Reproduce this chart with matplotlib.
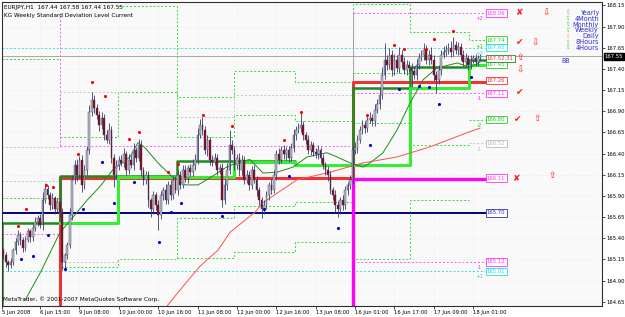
import matplotlib
matplotlib.use('Agg')
import matplotlib.pyplot as plt
import matplotlib.transforms as mtransforms
import numpy as np
from matplotlib import font_manager

cond = [f for f in font_manager.fontManager.ttflist
        if f.name == 'DejaVu Sans' and 'Condensed' in f.fname]
names = {f.name for f in font_manager.fontManager.ttflist}
if 'Liberation Sans Narrow' in names:
    plt.rcParams['font.family'] = ['Liberation Sans Narrow', 'DejaVu Sans']
    FS = 4.8
elif cond:
    plt.rcParams['font.family'] = ['DejaVu Sans']
    plt.rcParams['font.stretch'] = 'condensed'
    FS = 4.2
else:
    plt.rcParams['font.family'] = ['Liberation Sans', 'DejaVu Sans']
    FS = 4.0

# ---------------- data ----------------
closes = [
    165.20, 165.12, 165.09, 165.12, 165.26, 165.36, 165.44, 165.38, 165.29, 165.38,
    165.48, 165.41, 165.52, 165.59, 165.64, 165.56, 165.85, 165.98, 165.91, 165.79,
    165.87, 165.74, 165.83, 165.71, 165.12, 165.20, 165.32, 165.68, 166.09, 166.27,
    166.15, 166.33, 166.03, 166.21, 166.44, 166.89, 167.03, 166.94, 166.86, 166.74,
    166.82, 166.62, 166.56, 166.68, 166.35, 166.15, 166.27, 166.33, 166.29, 166.39,
    166.21, 166.33, 166.27, 166.44, 166.35, 166.50, 166.21, 166.09, 166.15, 165.85,
    165.74, 165.91, 165.79, 165.68, 165.91, 165.97, 165.85, 166.03, 165.91, 166.09,
    165.97, 166.15, 166.03, 166.21, 166.11, 166.23, 166.18, 166.27, 166.33, 166.62,
    166.74, 166.68, 166.44, 166.56, 166.33, 166.30, 166.35, 166.21, 166.23, 165.85,
    166.03, 166.21, 166.50, 166.44, 166.27, 166.35, 166.21, 166.33, 166.09, 166.15,
    166.03, 166.21, 166.09, 165.97, 165.85, 165.74, 165.79, 165.91, 166.03, 165.97,
    166.15, 166.39, 166.33, 166.44, 166.39, 166.44, 166.35, 166.47, 166.62, 166.68,
    166.70, 166.74, 166.62, 166.56, 166.44, 166.50, 166.42, 166.39, 166.44, 166.35,
    166.27, 166.21, 166.15, 165.97, 165.91, 165.79, 165.74, 165.85, 165.79, 165.97,
    166.03, 166.09, 166.44, 166.47, 166.56, 166.68, 166.74, 166.70, 166.80, 166.82,
    166.78, 166.92, 166.98, 167.09, 167.33, 167.51, 167.45, 167.57, 167.39, 167.51,
    167.41, 167.57, 167.48, 167.39, 167.45, 167.41, 167.37, 167.33, 167.45, 167.53,
    167.57, 167.62, 167.51, 167.57, 167.51, 167.33, 167.27, 167.39, 167.57, 167.60,
    167.62, 167.65, 167.60, 167.68, 167.62, 167.66, 167.57, 167.48, 167.53, 167.45,
    167.51, 167.53, 167.48, 167.53, 167.55]
first_open = 165.26
up_wick = [  # pips above body
    3, 4, 2, 5, 3, 4, 6, 3, 4, 5, 4, 3, 5, 6, 4, 5, 10, 7, 5, 4,
    6, 3, 5, 4, 5, 3, 4, 8, 6, 5, 7, 4, 5, 6, 5, 8, 10, 6, 5, 4,
    7, 5, 6, 8, 4, 5, 6, 4, 5, 7, 4, 6, 5, 8, 4, 7, 6, 3, 5, 4,
    3, 5, 4, 6, 5, 4, 7, 5, 6, 4, 5, 6, 4, 5, 6, 4, 5, 7, 6, 8,
    7, 9, 5, 6, 4, 5, 6, 4, 5, 6, 7, 8, 18, 6, 5, 4, 6, 5, 4, 6,
    5, 4, 6, 5, 3, 4, 6, 5, 4, 7, 6, 5, 8, 5, 6, 4, 5, 6, 7, 5,
    6, 14, 5, 4, 6, 5, 4, 5, 6, 4, 5, 3, 4, 5, 4, 6, 5, 4, 6, 5,
    4, 6, 5, 7, 6, 5, 6, 5, 6, 7, 5, 6, 7, 8, 9, 20, 6, 8, 5, 7,
    6, 9, 5, 6, 5, 4, 6, 5, 7, 6, 5, 8, 6, 5, 9, 5, 4, 6, 5, 7,
    6, 5, 8, 10, 5, 6, 4, 5, 6, 4, 5, 4, 5, 4, 3]
lo_wick = [  # pips below body
    5, 6, 8, 4, 3, 5, 4, 6, 5, 4, 3, 5, 4, 3, 5, 4, 6, 3, 5, 6,
    4, 5, 3, 6, 9, 8, 5, 4, 6, 5, 7, 4, 8, 5, 6, 4, 5, 6, 5, 7,
    5, 6, 4, 5, 6, 14, 5, 6, 4, 5, 6, 5, 4, 6, 5, 4, 7, 6, 5, 8,
    9, 5, 6, 18, 5, 6, 4, 5, 6, 5, 4, 6, 5, 4, 5, 6, 4, 5, 6, 5,
    4, 6, 5, 7, 6, 5, 4, 6, 5, 8, 5, 6, 5, 4, 6, 5, 7, 6, 5, 4,
    6, 5, 4, 7, 6, 10, 5, 4, 6, 5, 4, 6, 5, 4, 5, 6, 5, 4, 5, 6,
    4, 5, 6, 5, 4, 6, 5, 4, 5, 6, 5, 6, 7, 5, 6, 8, 9, 5, 6, 5,
    6, 5, 4, 5, 6, 4, 5, 6, 5, 4, 6, 5, 4, 5, 4, 5, 6, 5, 7, 6,
    5, 6, 7, 5, 6, 5, 18, 5, 6, 5, 4, 6, 5, 6, 5, 7, 15, 5, 6, 4,
    5, 4, 6, 5, 4, 5, 6, 5, 4, 6, 5, 4, 5, 4, 3]

# fractal dots (bar, price)
red_x = [6.0, 9.3, 17.4, 20.2, 30.4, 36.1, 41.4, 51.1, 55.2, 67.0, 71.1, 81.2, 93.0,
         114.1, 121.1, 147.9, 158.9, 162.9, 171.9, 175.1, 182.9]
red_y = [165.55, 165.74, 166.03, 166.01, 166.39, 167.25, 167.08, 166.57, 166.65, 166.18,
         166.28, 166.86, 166.72, 166.56, 166.89, 166.85, 167.68, 167.64, 167.64, 167.75, 167.85]
blue_x = [7.2, 12.1, 18.2, 25.1, 32.4, 40.2, 45.0, 53.2, 63.3, 68.2, 72.3, 88.9, 106.0,
          116.2, 136.1, 149.1, 160.9, 169.0, 173.1, 177.2, 190.2]
blue_y = [165.15, 165.19, 165.44, 165.04, 165.75, 166.30, 165.82, 166.07, 165.36, 165.71,
          165.82, 165.66, 165.74, 166.13, 165.52, 166.50, 167.16, 167.20, 167.19, 166.99, 167.30]

# moving averages (bar, price)
ma_fast_x = [8.9, 15.0, 23.1, 28.4, 34.1, 39.3, 44.6, 51.5, 54.8, 57.6, 62.9, 68.6, 73.9, 79.2,
             84.9, 90.2, 95.4, 100.3, 105.6, 111.3, 117.8, 123.5, 131.6, 135.7, 141.0, 146.3,
             149.1, 154.4, 160.1, 165.4, 170.6, 176.3, 184.5, 189.8, 193.8]
ma_fast_y = [164.67, 164.99, 165.47, 165.65, 165.85, 166.01, 166.21, 166.36, 166.53, 166.47,
             166.29, 166.13, 166.03, 166.03, 166.13, 166.23, 166.30, 166.33, 166.17, 166.18,
             166.24, 166.36, 166.41, 166.36, 166.29, 166.24, 166.29, 166.41, 166.68, 167.00,
             167.27, 167.41, 167.47, 167.42, 167.48]
ma_slow_x = [66.6, 71.9, 80.0, 87.3, 92.2, 102.4, 105.6, 119.4, 132.8, 146.3, 160.1, 173.5, 189.8, 193.8]
ma_slow_y = [164.60, 164.79, 165.07, 165.26, 165.47, 165.71, 165.82, 166.09, 166.18, 166.29,
             166.36, 166.48, 166.66, 166.70]

# daily / weekly levels
nan = np.nan
day_edges = [-0.5, 23, 46.5, 70.5, 94, 118.5, 142, 165.5, 189.5, 196]
green_a = [167.52, nan, 168.14, 167.07, 167.37, 167.25, 168.17, 167.83, 167.74]
green_b = [nan, 166.59, 167.13, 166.60, 166.85, 166.79, 167.35, nan, 166.80]
green_c = [nan, nan, nan, nan, nan, nan, 166.76, 166.50, nan]
green_d = [165.88, 165.06, 165.15, 165.64, 165.78, 165.83, 165.15, 165.85, nan]
green_e = [nan, nan, nan, 165.17, 165.24, 165.35, nan, nan, nan]
gray_a = [166.48, 167.13, nan, 166.83, 167.09, 167.09, nan, nan, 166.52]
gray_b = [166.08, 165.12, nan, nan, nan, nan, nan, nan, nan]

lime_edges = [23, 46.5, 94, 118.5, 165.5, 189.5, 196]
lime_levels = [165.58, 166.12, 166.30, 166.26, 167.18, 167.45]
dkgreen_edges = [-0.5, 23, 70.5, 118.5, 142, 165.5, 189.5, 196]
dkgreen_levels = [165.58, 166.14, 166.31, 166.26, 167.18, 167.42, 167.50]
red_edges = [23, 142, 196]
red_levels = [166.11, 167.25]
mag_edges = [142, 196]
mag_levels = [166.10]
navy_level = 165.70
cyan_levels = [167.65, 165.01]
mag_dash_right = [168.06, 167.11, 165.12]
mag_dash_mid = 166.49
mag_dash_left = 165.45

labels_txt = ['168.06', '167.74', '167.65', '167.45', '167.26', '167.11', '166.80', '166.52',
              '166.11', '165.70', '165.12', '165.01']
labels_val = [168.06, 167.74, 167.65, 167.45, 167.26, 167.11, 166.80, 166.52, 166.11, 165.70, 165.12, 165.01]
labels_col = ['#ff33ff', '#22cc22', '#22dddd', '#22cc22', '#ee3030', '#ff33ff', '#22cc22', '#b8b8b8',
              '#ff33ff', '#3030a0', '#ff33ff', '#22dddd']

sig_sym = ['✘', '⇩', '✔', '⇩', '⇧', '⇩', '✔', '✔', '⇧', '✘', '⇧']
sig_x = [210.1, 220.6, 210.1, 216.2, 210.1, 210.1, 210.1, 209.3, 217.0, 208.9, 223.1]
sig_y = [168.07, 168.06, 167.71, 167.71, 167.53, 167.39, 167.12, 166.80, 166.82, 166.10, 166.14]

tf_names = ['Yearly', '4Month', 'Monthly', 'Weekly', 'Daily', '8Hours', '4Hours']
tf_col = ['#33cc33', '#33cc33', '#33cc33', '#33cc33', '#ff9933', '#33cc33', '#33cc33']

xtick_pos = [-0.5, 15, 31, 47, 63, 79, 95, 111, 127, 143, 159, 175, 191]
xtick_lab = ['5 Jun 2008', '6 Jun 15:00', '9 Jun 08:00', '10 Jun 00:00', '10 Jun 16:00',
             '11 Jun 08:00', '12 Jun 00:00', '12 Jun 16:00', '13 Jun 08:00', '16 Jun 01:00',
             '16 Jun 17:00', '17 Jun 09:00', '18 Jun 01:00']

YMIN, YMAX = 164.60, 168.19
XMIN, XMAX = -0.5, 243.4

# ---------------- figure ----------------
W, H = 625, 317
fig = plt.figure(figsize=(W / 100, H / 100), dpi=100, facecolor='white')
ax = fig.add_axes([2 / W, (H - 306) / H, 600 / W, 304 / H])
ax.set_facecolor('#f9f9f9')
ax.set_xlim(XMIN, XMAX)
ax.set_ylim(YMIN, YMAX)

DASH = (0, (2, 2))

def steps(edges, levels, **kw):
    ys = list(levels) + [levels[-1]]
    ax.plot(edges, ys, drawstyle='steps-post', **kw)

# dashed levels
for lv in (green_a, green_b, green_c, green_d, green_e):
    steps(day_edges, lv, color='#33dd33', lw=0.7, ls=DASH, zorder=1)
for lv in (gray_a, gray_b):
    steps(day_edges, lv, color='#c4c4c4', lw=0.7, ls=DASH, zorder=1)
ax.plot([day_edges[0], day_edges[0]], [YMIN, green_a[0]], color='#33dd33', lw=0.7, ls=DASH, zorder=1)
for v in cyan_levels:
    ax.plot([day_edges[0], day_edges[-1]], [v, v], color='#33dddd', lw=0.7, ls=DASH, zorder=1)
for v in mag_dash_right:
    ax.plot([mag_edges[0], mag_edges[-1]], [v, v], color='#ff55ff', lw=0.7, ls=DASH, zorder=1)
ax.plot([mag_edges[0], mag_edges[0]], [mag_dash_right[1], mag_dash_right[0]], color='#ff55ff', lw=0.7, ls=DASH, zorder=1)
ax.plot([red_edges[0], red_edges[1]], [mag_dash_mid, mag_dash_mid], color='#ff55ff', lw=0.7, ls=DASH, zorder=1)
ax.plot([red_edges[0], red_edges[0]], [mag_dash_mid, mag_dash_right[0]], color='#ff55ff', lw=0.7, ls=DASH, zorder=1)
ax.plot([day_edges[0], day_edges[1]], [mag_dash_left, mag_dash_left], color='#ff55ff', lw=0.7, ls=DASH, zorder=1)

# bid line
ax.axhline(closes[-1], color='#a8a8a8', lw=0.7, zorder=1)

# thick level lines
ax.plot([day_edges[0], day_edges[-1]], [navy_level, navy_level], color='#00007a', lw=1.4, zorder=2)
steps(red_edges, red_levels, color='#ee3333', lw=2.2, zorder=2)
ax.plot([red_edges[0], red_edges[0]], [YMIN, red_levels[0]], color='#ee3333', lw=2.2, zorder=2)
steps(mag_edges, mag_levels, color='#ff00ff', lw=2.4, zorder=2)
ax.plot([mag_edges[0], mag_edges[0]], [YMIN, mag_levels[0]], color='#ff00ff', lw=2.4, zorder=2)
steps(dkgreen_edges, dkgreen_levels, color='#1f8a1f', lw=1.8, zorder=2)
ax.plot([dkgreen_edges[0], dkgreen_edges[0]], [YMIN, dkgreen_levels[0]], color='#1f8a1f', lw=1.8, zorder=2)
steps(lime_edges, lime_levels, color='#33ee33', lw=2.2, zorder=2)

# moving averages
ax.plot(ma_slow_x, ma_slow_y, color='#ff5050', lw=0.7, zorder=3)
ax.plot(ma_fast_x, ma_fast_y, color='#1f8a1f', lw=0.7, zorder=3)

# candles
c = np.array(closes)
o = np.array([first_open] + closes[:-1])
hi = np.maximum(o, c) + np.array(up_wick) / 100.0
lo = np.minimum(o, c) - np.array(lo_wick) / 100.0
x = np.arange(len(c))
ax.vlines(x, lo, hi, color='#3a3a70', lw=0.6, zorder=4)
bull = c >= o
body_h = np.maximum(np.abs(c - o), 0.006)
ax.bar(x[bull], body_h[bull], bottom=np.minimum(o, c)[bull], width=0.7,
       color='#bcbcbc', edgecolor='#3a3a70', linewidth=0.3, zorder=4)
ax.bar(x[~bull], body_h[~bull], bottom=np.minimum(o, c)[~bull], width=0.7,
       color='#8b0a0a', edgecolor='#3a3a70', linewidth=0.3, zorder=4)

# fractals
ax.scatter(red_x, red_y, s=5, color='#ff0000', zorder=5, linewidths=0)
ax.scatter(blue_x, blue_y, s=5, color='#0000cc', zorder=5, linewidths=0)

# right-hand labels
for t, v, col in zip(labels_txt, labels_val, labels_col):
    ax.text(196.6, v, t, ha='left', va='center', fontsize=FS, color=col, zorder=6,
            bbox=dict(boxstyle='square,pad=0.2', fc='white', ec=col, lw=0.6))
ax.text(196.6, 167.52, '167.52:31', ha='left', va='center', fontsize=FS, color='#ee3030', zorder=7,
        bbox=dict(boxstyle='square,pad=0.2', fc='white', ec='#1f8a1f', lw=0.6))
small = [('+2', 168.00, '#ff33ff'), ('+1', 167.67, '#22cc22'), ('+2', 167.58, '#22dddd'),
         ('-1', 167.05, '#ff33ff'), ('-2', 166.73, '#22cc22'), ('-1', 166.45, '#b8b8b8'),
         ('-1', 165.06, '#ff33ff'), ('+1', 164.95, '#22dddd')]
for t, v, col in small:
    ax.text(193.5, v, t, ha='center', va='center', fontsize=FS, color=col, zorder=6)

for s, sx, sy in zip(sig_sym, sig_x, sig_y):
    ax.text(sx, sy, s, ha='center', va='center', fontsize=6.5, color='#ff1a1a', zorder=6,
            family=['DejaVu Sans'], fontstretch='normal')

# timeframe list
for i, (nm, col) in enumerate(zip(tf_names, tf_col)):
    yy = 1 - (13 + 5.8 * i) / H
    fig.text(599 / W, yy, nm, ha='right', va='center', fontsize=FS + 1.0, color='#3333cc')
    fig.text(567 / W, yy, '⇧', ha='center', va='center', fontsize=4.0, color=col,
             family=['DejaVu Sans'], fontstretch='normal')
fig.text(566 / W, 1 - 61 / H, 'BB', ha='center', va='center', fontsize=FS + 0.8, color='#3333cc')

# texts
fig.text(4 / W, 1 - 7 / H, 'EURJPY,H1  167.44 167.58 167.44 167.55', fontsize=FS + 0.4, va='center', color='black')
fig.text(4 / W, 1 - 15 / H, 'KG Weekly Standard Deviation Level Current', fontsize=FS + 0.4, va='center', color='black')
fig.text(3 / W, 1 - 299 / H, 'MetaTrader, © 2001-2007 MetaQuotes Software Corp.', fontsize=FS + 0.4, va='center', color='black')

# axes styling
ax.yaxis.tick_right()
yt = np.round(np.arange(164.65, 168.16, 0.25), 2)
ax.set_yticks(yt)
ax.set_yticklabels(['%.2f' % v for v in yt])
ax.set_xticks(xtick_pos)
ax.set_xticklabels(xtick_lab)
for lab in ax.get_xticklabels():
    lab.set_horizontalalignment('left')
ax.tick_params(axis='both', labelsize=FS, length=2, width=0.5, pad=1, colors='black')
ax.grid(True, color='#d6d6d6', lw=0.4, ls=(0, (1, 3)))
for sp in ax.spines.values():
    sp.set_color('#303030')
    sp.set_linewidth(0.8)

blend = mtransforms.blended_transform_factory(ax.transAxes, ax.transData)
ax.text(1.004, closes[-1], '%.2f' % closes[-1], transform=blend, ha='left', va='center', fontsize=FS,
        color='white', bbox=dict(boxstyle='square,pad=0.15', fc='black', ec='black'), clip_on=False, zorder=8)

fig.savefig('out.png', dpi=100, facecolor='white')
